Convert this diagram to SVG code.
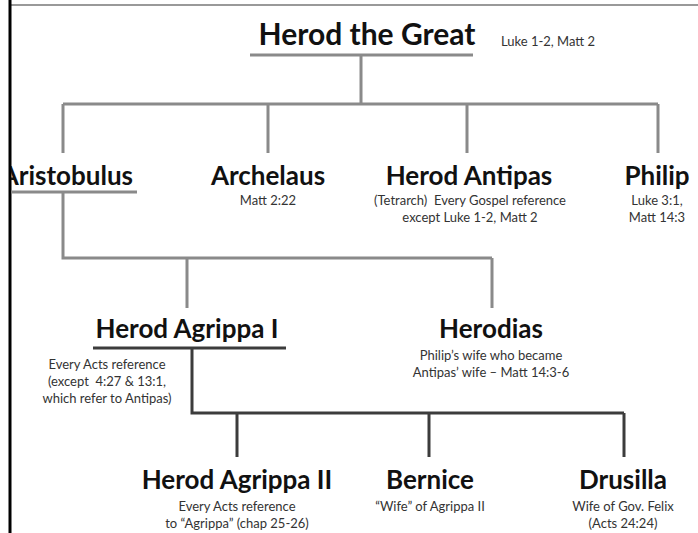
<svg xmlns="http://www.w3.org/2000/svg" width="698" height="533" viewBox="0 0 698 533">
<style>
.t{font-family:Lato,"Open Sans","Liberation Sans",sans-serif;font-weight:bold;font-size:26px;fill:#111;text-anchor:middle}
.s{font-family:Lato,"Open Sans","Liberation Sans",sans-serif;font-size:13px;fill:#333;text-anchor:middle}
.g{stroke:#8a8a8a;stroke-width:3;fill:none}
.d{stroke:#3c3c3c;stroke-width:3;fill:none}
</style>
<defs><clipPath id="cl"><rect x="11" y="0" width="687" height="533"/></clipPath></defs>
<rect width="698" height="533" fill="#fff"/>
<line x1="10" y1="5" x2="698" y2="5" stroke="#777" stroke-width="1.5"/>
<line x1="10" y1="0" x2="10" y2="533" stroke="#000" stroke-width="3"/>
<g id="connectors">
<path class="g" d="M250 55H473M361 55V104M63 104H658M63 104V153M268 104V153M467 104V153M658 104V153"/>
<path class="g" d="M11 192H137M63 192V258H492M187 258V308M492 258V308"/>
<path class="d" d="M93 348H286M192 348V413H624M237 413V457M429 413V457M624 413V457"/>
</g>
<g id="herod-great">
<text class="t" x="367" y="45" style="font-size:30px">Herod the Great</text>
<text class="s" x="548" y="46" style="font-size:13px">Luke 1-2, Matt 2</text>
</g>
<g id="aristobulus" clip-path="url(#cl)">
<text class="t" x="133" y="185" style="text-anchor:end">Aristobulus</text>
</g>
<g id="archelaus">
<text class="t" x="268" y="185">Archelaus</text>
<text class="s" x="268" y="205">Matt 2:22</text>
</g>
<g id="antipas">
<text class="t" x="469" y="185">Herod Antipas</text>
<text class="s" x="470" y="205" xml:space="preserve">(Tetrarch)  Every Gospel reference</text>
<text class="s" x="470" y="222">except Luke 1-2, Matt 2</text>
</g>
<g id="philip">
<text class="t" x="657" y="185">Philip</text>
<text class="s" x="657" y="205">Luke 3:1,</text>
<text class="s" x="657" y="222">Matt 14:3</text>
</g>
<g id="agrippa1">
<text class="t" x="187" y="338">Herod Agrippa I</text>
<text class="s" x="107" y="369">Every Acts reference</text>
<text class="s" x="107" y="386" xml:space="preserve">(except  4:27 &amp; 13:1,</text>
<text class="s" x="107" y="403">which refer to Antipas)</text>
</g>
<g id="herodias">
<text class="t" x="491" y="338">Herodias</text>
<text class="s" x="491" y="360">Philip’s wife who became</text>
<text class="s" x="491" y="377">Antipas’ wife – Matt 14:3-6</text>
</g>
<g id="agrippa2">
<text class="t" x="237" y="489">Herod Agrippa II</text>
<text class="s" x="237" y="511">Every Acts reference</text>
<text class="s" x="237" y="528">to “Agrippa” (chap 25-26)</text>
</g>
<g id="bernice">
<text class="t" x="430" y="489">Bernice</text>
<text class="s" x="430" y="511">“Wife” of Agrippa II</text>
</g>
<g id="drusilla">
<text class="t" x="623" y="489">Drusilla</text>
<text class="s" x="623" y="511">Wife of Gov. Felix</text>
<text class="s" x="623" y="528">(Acts 24:24)</text>
</g>
</svg>
